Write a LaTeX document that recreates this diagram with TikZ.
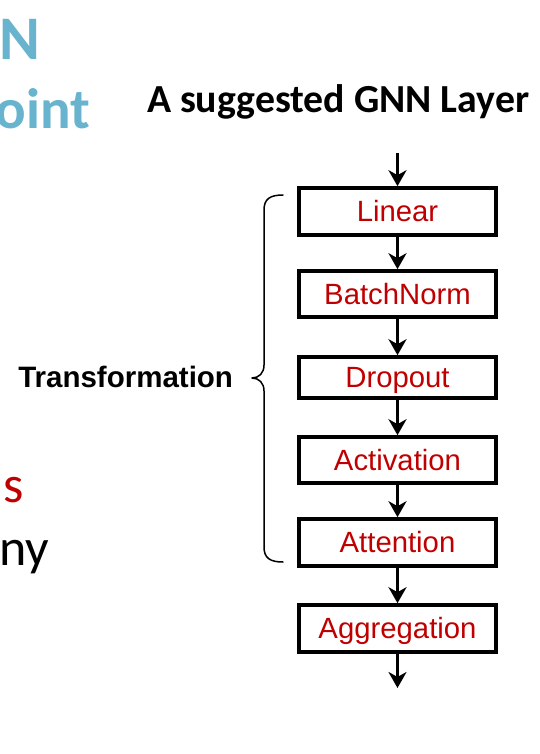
\documentclass[tikz,border=0pt]{standalone}
\usepackage{fontspec}
\setmainfont{Liberation Sans}
\newfontfamily\calfont{Carlito}
\usetikzlibrary{arrows.meta}
\definecolor{boxred}{RGB}{192,0,0}
\definecolor{slideblue}{RGB}{104,180,206}
\tikzset{
  layerbox/.style={draw=black, line width=3.6pt, fill=white, minimum width=197pt,
    inner xsep=0pt, inner ysep=0pt, text height=20.8pt, text depth=0pt,
    text=boxred, font=\fontsize{29.3}{34}\selectfont},
  flow/.style={line width=3.4pt, -{Stealth[length=16pt,width=18pt,inset=5pt]}},
  bracepath/.style={line width=1.5pt, line cap=round, line join=round},
  plain/.style={inner sep=0pt, outer sep=0pt}
}
\begin{document}
\begin{tikzpicture}[x=1pt,y=-1pt]
\useasboundingbox (0,0) rectangle (540,754);
% slide fragments
\node[plain, anchor=base east, text=slideblue, font=\calfont\bfseries\fontsize{62}{70}\selectfont] (frN) at (40,60) {N};
\node[plain, anchor=base east, text=slideblue, font=\calfont\bfseries\fontsize{57}{64}\selectfont] (frPoint) at (90,129) {oint};
\node[plain, anchor=base east, text=boxred, font=\calfont\fontsize{52}{60}\selectfont] (frS) at (24,502) {s};
\node[plain, anchor=base east, text=black, font=\calfont\fontsize{52}{60}\selectfont] (frNy) at (49,565) {ny};
% title
\node[plain, anchor=base west, font=\calfont\bfseries\fontsize{39.8}{46}\selectfont] (title) at (147,113) {A suggested GNN Layer};
% boxes
\node[layerbox, minimum height=47pt] (lin) at (397.5,211.5) {Linear};
\node[layerbox, minimum height=46pt] (bn) at (397.5,294) {BatchNorm};
\node[layerbox, minimum height=41pt] (drop) at (397.5,377.5) {Dropout};
\node[layerbox, minimum height=46pt] (act) at (397.5,460) {Activation};
\node[layerbox, minimum height=47pt] (att) at (397.5,542.5) {Attention};
\node[layerbox, minimum height=47pt] (agg) at (397.5,628.5) {Aggregation};
\coordinate (in) at (397.5,153);
\coordinate (out) at (397.5,688);
% arrows
\draw[flow] (in) -- (lin.north);
\draw[flow] (lin.south) -- (bn.north);
\draw[flow] (bn.south) -- (drop.north);
\draw[flow] (drop.south) -- (act.north);
\draw[flow] (act.south) -- (att.north);
\draw[flow] (att.south) -- (agg.north);
\draw[flow] (agg.south) -- (out);
% brace
\coordinate (btop) at (283,195);
\coordinate (btip) at (252,378);
\coordinate (bbot) at (283,562);
\draw[bracepath] (btop) .. controls (270,195) and (264,199) .. (264,210) -- (264,365)
  .. controls (264,373) and (259,378) .. (btip)
  .. controls (259,378) and (264,383) .. (264,391) -- (264,547)
  .. controls (264,558) and (270,562) .. (bbot);
\node[plain, anchor=base east, font=\bfseries\fontsize{29.5}{35}\selectfont] (trans) at (233,387) {Transformation};
\end{tikzpicture}
\end{document}
